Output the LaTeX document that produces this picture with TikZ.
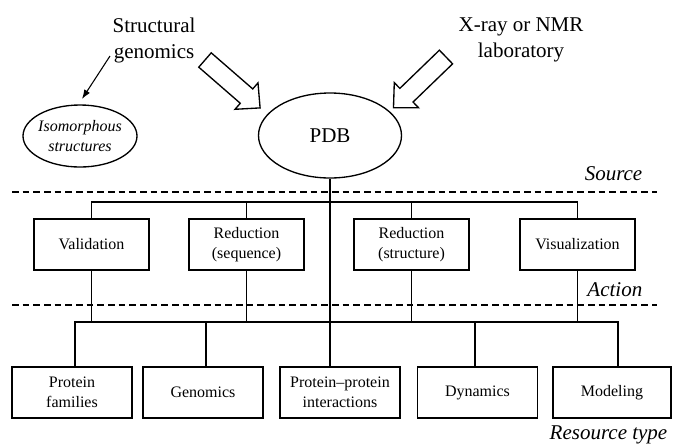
\documentclass[tikz,border=0pt]{standalone}
\usepackage{fontspec}
\setmainfont{Liberation Serif}
\usetikzlibrary{shapes.geometric,arrows.meta}
\begin{document}
\begin{tikzpicture}[x=0.75pt,y=-0.75pt,
  abox/.style={draw,line width=1pt,rectangle,inner sep=0pt,minimum width=86.25pt,minimum height=38.25pt,align=center,font=\fontsize{12}{15}\selectfont},
  rbox/.style={abox,minimum width=90pt},
  oval/.style={draw,line width=1pt,ellipse,inner sep=0pt},
  big/.style={font=\fontsize{15.75}{19.5}\selectfont,align=center},
  tagtext/.style={font=\fontsize{15.75}{19.5}\selectfont\itshape},
  sepline/.style={line width=1.3pt,dash pattern=on 5pt off 3pt},
  wire/.style={line width=1pt},
  hollow/.style={draw,line width=1pt,fill=white,line join=miter}
]
\useasboundingbox (0,0) rectangle (673,444);

% top texts and ellipses
\node[big] (sg) at (154,40) {Structural\\genomics};
\node[big] (xr) at (521,40) {X-ray or NMR\\laboratory};
\node[oval,minimum width=107.25pt,minimum height=63.75pt,font=\fontsize{15.75}{19}\selectfont] (pdb) at (330,135.5) {PDB};
\node[oval,inner xsep=-2pt,minimum width=85.5pt,minimum height=46.5pt,align=center,font=\fontsize{12}{15}\selectfont\itshape] (iso) at (80,136) {Isomorphous\\structures};

% hollow arrows
\draw[hollow,shift={(205,60)},rotate=-41] (0,-9.5) -- (55,-9.5) -- (55,-17.5) -- (73,0) -- (55,17.5) -- (55,9.5) -- (0,9.5) -- cycle;
\draw[hollow,shift={(446,57)},rotate=-136] (0,-9.5) -- (55,-9.5) -- (55,-17.5) -- (73,0) -- (55,17.5) -- (55,9.5) -- (0,9.5) -- cycle;

% thin arrow
\coordinate (sgt) at (110,56);
\coordinate (isot) at (82,99);
\draw[line width=0.8pt,-{Latex[length=7pt,width=5pt]}] (sgt) -- (isot);

% tier labels
\node[tagtext,anchor=base east] (src) at (647,180) {Source};
\node[tagtext,anchor=base east] (act) at (647,296) {Action};
\node[tagtext,anchor=base east] (res) at (672,439) {Resource type};

% dashed separators
\coordinate (d1l) at (12,192); \coordinate (d1r) at (657,192);
\coordinate (d2l) at (12,305); \coordinate (d2r) at (657,305);
\draw[sepline] (d1l) -- (d1r);
\draw[sepline] (d2l) -- (d2r);

% action boxes
\node[abox] (val) at (91.5,244.5) {Validation};
\node[abox] (rseq) at (246.5,244.5) {Reduction\\(sequence)};
\node[abox] (rstr) at (411.5,244.5) {Reduction\\(structure)};
\node[abox] (vis) at (577.5,244.5) {Visualization};

% resource boxes
\node[rbox] (pf) at (72,392.5) {Protein\\families};
\node[rbox] (gen) at (203,392.5) {Genomics};
\node[rbox] (pp) at (340,392.5) {Protein--protein\\interactions};
\node[rbox] (dyn) at (477.5,392.5) {Dynamics};
\node[rbox,minimum width=88.5pt] (mod) at (612,392.5) {Modeling};

% wires
\coordinate (bus1) at (0,202);
\draw[wire] (val.north) -- (val.north |- bus1) -- (vis.north |- bus1) -- (vis.north);
\draw[wire] (rseq.north) -- (rseq.north |- bus1);
\draw[wire] (rstr.north) -- (rstr.north |- bus1);
\draw[wire] (pdb.south) -- (pdb.south |- pp.north);
\coordinate (bus2) at (0,322);
\foreach \n in {val,rseq,rstr,vis} \draw[wire] (\n.south) -- (\n.south |- bus2);
\coordinate (tpf) at (75,322);
\coordinate (tgen) at (206,322);
\coordinate (tdyn) at (475,322);
\coordinate (tmod) at (618,322);
\draw[wire] (tpf |- pf.north) -- (tpf) -- (tmod) -- (tmod |- mod.north);
\draw[wire] (tgen) -- (tgen |- gen.north);
\draw[wire] (tdyn) -- (tdyn |- dyn.north);
\end{tikzpicture}
\end{document}
